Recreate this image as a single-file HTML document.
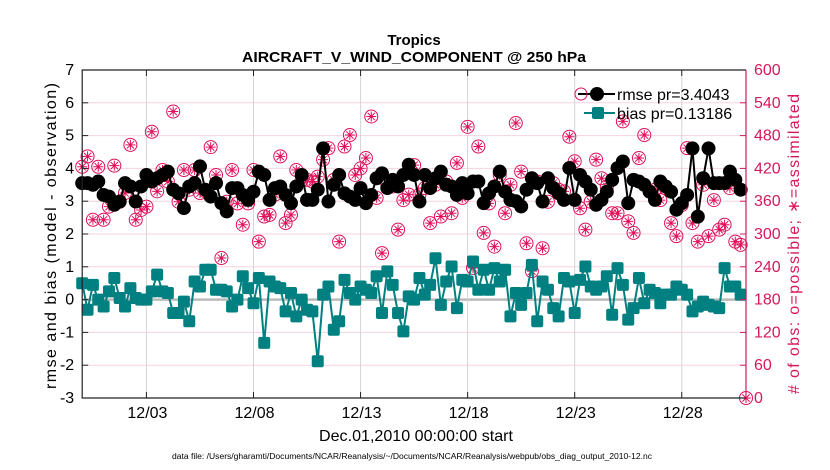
<!DOCTYPE html>
<html><head><meta charset="utf-8"><style>
body{margin:0;background:#fff;}
svg{display:block;font-family:"Liberation Sans",Arial,sans-serif;}
</style></head><body>
<svg id="chart" width="830" height="470" viewBox="0 0 830 470">
<g id="grid"></g>
<g id="marks"></g>
<g id="axes"></g>
<text x="414" y="45" text-anchor="middle" font-size="15" font-weight="bold">Tropics</text>
<text x="414" y="62" text-anchor="middle" font-size="15" font-weight="bold" textLength="344" lengthAdjust="spacingAndGlyphs">AIRCRAFT_V_WIND_COMPONENT @ 250 hPa</text>
<text transform="translate(56,236) rotate(-90)" text-anchor="middle" font-size="16" textLength="306" lengthAdjust="spacing">rmse and bias (model - observation)</text>
<text transform="translate(799,244) rotate(-90)" text-anchor="middle" font-size="16" fill="#d6185a" textLength="300" lengthAdjust="spacing"># of obs: o=possible; ∗=assimilated</text>
<text x="416" y="441" text-anchor="middle" font-size="16" textLength="194" lengthAdjust="spacingAndGlyphs">Dec.01,2010 00:00:00 start</text>
<text x="412" y="459" text-anchor="middle" font-size="8" textLength="480" lengthAdjust="spacingAndGlyphs">data file: /Users/gharamti/Documents/NCAR/Reanalysis/~/Documents/NCAR/Reanalysis/webpub/obs_diag_output_2010-12.nc</text>
<g>
<line x1="578" y1="94" x2="615" y2="94" stroke="#000" stroke-width="2"/>
<circle cx="597" cy="94" r="7" fill="#000"/>
<circle cx="581" cy="94" r="6" fill="none" stroke="#e0105a" stroke-width="1"/>
<text x="617" y="100" font-size="16">rmse pr=3.4043</text>
<line x1="584" y1="113" x2="615" y2="113" stroke="#008080" stroke-width="2"/>
<rect x="592" y="107" width="12" height="12" rx="2" fill="#008080"/>
<text x="617" y="119" font-size="16">bias pr=0.13186</text>
</g>
</svg>
<script>
const rmse=[3.55,3.55,3.50,3.60,3.19,3.14,2.89,2.99,3.55,3.45,2.99,3.45,3.80,3.60,3.70,3.80,3.90,3.35,3.24,2.79,3.45,3.55,4.06,3.35,3.14,3.55,2.94,2.69,3.40,3.40,3.19,3.04,3.29,3.90,3.80,3.04,3.40,3.45,3.19,2.94,3.45,3.80,3.04,3.04,3.35,4.61,2.99,3.50,3.80,3.24,3.14,3.04,3.40,2.94,3.19,3.70,3.85,3.40,3.65,3.45,3.80,4.11,3.80,2.99,3.80,3.40,3.70,3.90,3.50,3.45,3.19,3.55,3.24,3.60,3.60,2.94,3.24,3.45,3.90,3.29,3.04,3.00,2.84,3.35,3.70,3.55,2.99,3.70,3.40,3.24,3.04,4.01,3.04,3.80,3.60,3.35,2.89,3.04,3.29,3.65,4.01,4.21,2.94,3.65,3.60,3.50,3.29,3.04,3.60,3.45,3.29,2.74,2.94,3.19,4.61,2.53,3.70,4.61,3.55,3.55,3.55,3.90,3.65,3.35];
const bias=[0.50,-0.31,0.45,0.00,-0.21,0.25,0.66,0.05,-0.21,0.35,0.05,0.00,0.00,0.25,0.76,0.25,0.20,-0.41,-0.41,-0.06,-0.66,0.55,0.40,0.91,0.91,0.30,0.30,0.25,-0.21,0.00,0.71,0.35,-0.11,0.66,-1.32,0.55,0.40,0.35,-0.36,0.20,-0.51,0.00,-0.31,-0.36,-1.88,0.15,0.40,-0.92,-0.66,0.60,0.20,0.00,0.40,0.30,0.20,0.71,-0.41,0.86,0.45,-0.41,-0.97,0.10,0.00,0.66,0.15,0.45,1.26,-0.16,0.55,1.01,-0.26,0.60,0.55,1.16,0.30,0.91,0.30,0.96,0.55,0.91,-0.51,0.20,-0.16,0.20,1.06,-0.66,0.55,0.30,-0.26,-0.51,0.66,0.55,-0.41,0.60,1.01,0.40,0.30,0.40,0.71,-0.46,0.96,0.45,-0.61,-0.26,0.66,-0.11,0.30,0.20,-0.11,0.15,0.15,0.40,0.30,0.15,-0.36,-0.21,-0.06,-0.16,-0.21,-0.26,0.96,0.40,0.40,0.15];
const obsCount=[423,442,326,423,326,350,425,359,375,463,326,344,350,487,378,417,396,524,359,417,381,417,375,378,459,408,256,359,417,356,317,356,417,286,332,335,372,442,320,335,417,399,399,396,405,436,457,399,286,460,481,408,420,439,515,366,265,390,387,308,362,372,426,372,384,320,390,332,396,338,430,366,496,238,460,302,356,277,408,338,390,503,414,283,232,396,274,359,393,381,378,478,433,347,308,359,436,402,387,338,338,506,323,302,439,481,378,381,362,384,320,296,353,457,320,286,390,296,362,308,317,384,286,280,0];
const leftTicks=[-3,-2,-1,0,1,2,3,4,5,6,7];
const rightTicks=[0,60,120,180,240,300,360,420,480,540,600];
const dateTicks=[3,8,13,18,23,28];
const dateLabels=["12/03","12/08","12/13","12/18","12/23","12/28"];

const L=82.2,R=746,T=70,B=398,DAYS=31;
const xs=d=>L+(d/DAYS)*(R-L);
const ys=v=>B-(v+3)/10*(B-T);
const yo=n=>B-n/600*(B-T);
const NS="http://www.w3.org/2000/svg";
function mk(tag,attrs,parent){const e=document.createElementNS(NS,tag);for(const k in attrs)e.setAttribute(k,attrs[k]);parent.appendChild(e);return e;}
const grid=document.getElementById('grid'),marks=document.getElementById('marks'),axes=document.getElementById('axes');

leftTicks.forEach(v=>{
  const y=ys(v);
  const g=mk('line',{x1:L,x2:R,y1:y,y2:y,stroke:v===0?'#bbbbbb':'#f6d3e1','stroke-width':v===0?2.5:1},grid);
  
  
  const t=mk('text',{x:L-8,y:y+5,'text-anchor':'end','font-size':16},axes);
  t.textContent=v;
  
  
  mk('line',{x1:L,x2:L+6,y1:y,y2:y,stroke:'#222'},axes);
});
rightTicks.forEach(n=>{
  const y=yo(n);
  const t=mk('text',{x:R+8,y:y+5,'font-size':16,fill:'#d6185a'},axes);
  t.textContent=n;
  
  
  mk('line',{x1:R-6,x2:R,y1:y,y2:y,stroke:'#d6185a'},axes);
});
dateTicks.forEach((d,i)=>{
  const x=xs(d);
  const g=mk('line',{x1:x,x2:x,y1:T,y2:B,stroke:'#d5d5d5','stroke-width':1},grid);
  
  
  mk('line',{x1:x,x2:x,y1:B,y2:B-6,stroke:'#222'},axes);
  mk('line',{x1:x,x2:x,y1:T,y2:T+6,stroke:'#222'},axes);
  const t=mk('text',{x:x+1,y:B+20,'text-anchor':'middle','font-size':16},axes);
  t.textContent=dateLabels[i];
  
  
});
mk('path',{d:`M${R},${T}H${L}V${B}H${R}`,fill:'none',stroke:'#222','stroke-width':1.2},axes);
mk('line',{x1:R,x2:R,y1:T,y2:B,stroke:'#d6185a','stroke-width':1.2},axes);

obsCount.forEach((n,i)=>{
  const x=xs(i*0.25),y=yo(n);
  const g=mk('g',{stroke:'#e0105a','stroke-width':1,fill:'none'},marks);
  
  
  mk('circle',{cx:x,cy:y,r:6.5},g);
  mk('path',{d:`M${x-5},${y}H${x+5}M${x},${y-5}V${y+5}M${x-3.6},${y-3.6}L${x+3.6},${y+3.6}M${x-3.6},${y+3.6}L${x+3.6},${y-3.6}`},g);
});
mk('polyline',{points:rmse.map((v,i)=>xs(i*0.25)+','+ys(v)).join(' '),fill:'none',stroke:'#000','stroke-width':2},marks);
rmse.forEach((v,i)=>{
  const c=mk('circle',{cx:xs(i*0.25),cy:ys(v),r:7,fill:'#000'},marks);
  
  
});
mk('polyline',{points:bias.map((v,i)=>xs(i*0.25)+','+ys(v)).join(' '),fill:'none',stroke:'#008080','stroke-width':2},marks);
bias.forEach((v,i)=>{
  const r=mk('rect',{x:xs(i*0.25)-6,y:ys(v)-6,width:12,height:12,rx:2,fill:'#008080'},marks);
  
  
});
</script>
</body></html>
